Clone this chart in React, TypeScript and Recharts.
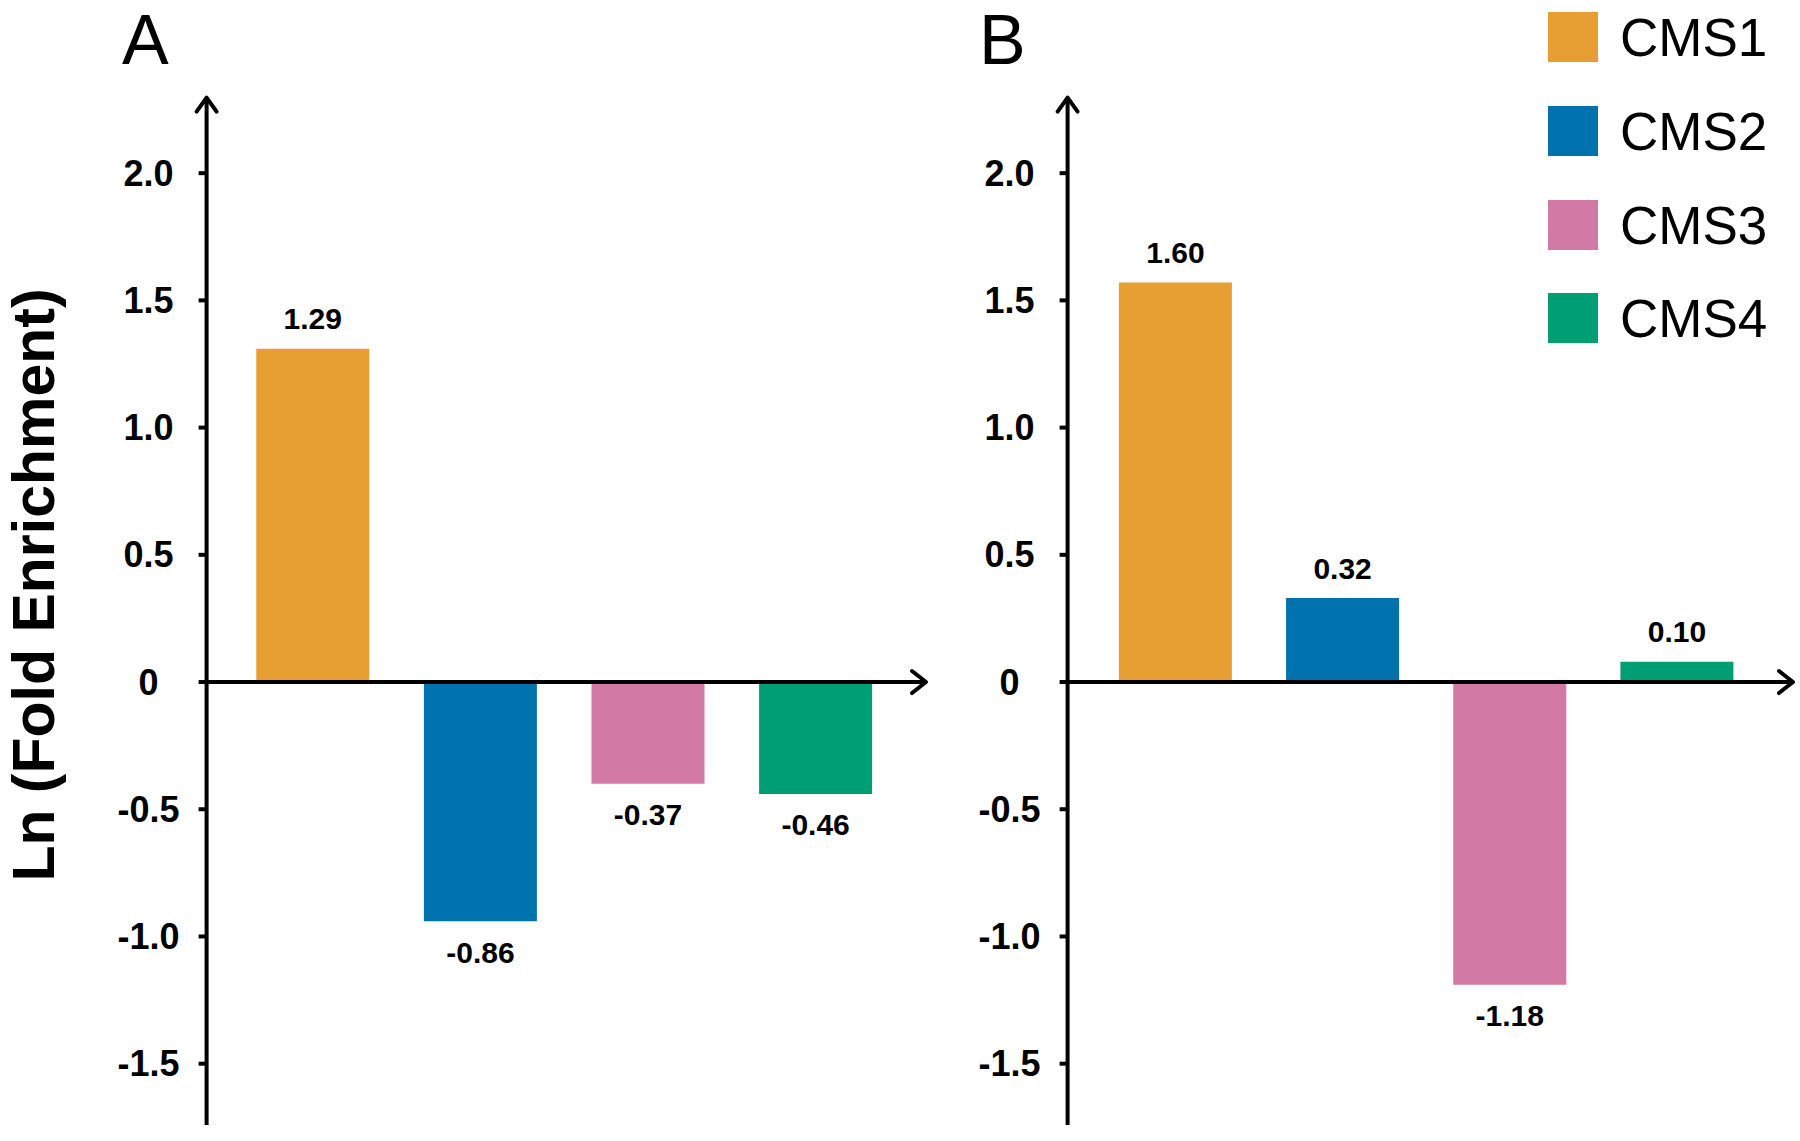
import React from "react";
import { BarChart, Bar, XAxis, YAxis, Cell, LabelList, ReferenceLine } from "recharts";

// ---- data ----
const categories = ["CMS1", "CMS2", "CMS3", "CMS4"];
const seriesColors = ["#E79E33", "#0072AD", "#D279A5", "#009E74"];
// drawn bar lengths and printed value labels
const panelAValues = [1.31, -0.94, -0.4, -0.44];
const panelALabels = ["1.29", "-0.86", "-0.37", "-0.46"];
const panelBValues = [1.57, 0.33, -1.19, 0.08];
const panelBLabels = ["1.60", "0.32", "-1.18", "0.10"];
const yTicks = [-1.5, -1.0, -0.5, 0, 0.5, 1.0, 1.5, 2.0];
const yTickLabels = ["-1.5", "-1.0", "-0.5", "0", "0.5", "1.0", "1.5", "2.0"];
const yDomain: [number, number] = [-1.741, 2.297];
const yTitle = "Ln (Fold Enrichment)";
const panelTitles = ["A", "B"];

const FONT = "'Liberation Sans', Arial, Helvetica, sans-serif";

const buildRows = (vals: number[], labels: string[]) =>
  categories.map((c, i) => ({ name: c, value: vals[i], label: labels[i] }));

const YTick = (props: any) => {
  const { x, y, payload } = props;
  const idx = yTicks.indexOf(payload.value);
  const txt = idx >= 0 ? yTickLabels[idx] : String(payload.value);
  return (
    <text
      x={x + 14 - 62}
      y={y}
      textAnchor="middle"
      dominantBaseline="central"
      fontFamily={FONT}
      fontWeight="bold"
      fontSize={36}
      fill="#000"
    >
      {txt}
    </text>
  );
};

const XArrow = (props: any) => {
  const { x1, x2, y1 } = props;
  const l = Math.min(x1, x2);
  const r = Math.max(x1, x2);
  return (
    <g>
      <line x1={l} y1={y1} x2={r - 2} y2={y1} stroke="#000" strokeWidth={4} />
      <polyline
        points={`${r - 14},${y1 - 11} ${r},${y1} ${r - 14},${y1 + 11}`}
        fill="none"
        stroke="#000"
        strokeWidth={4}
        strokeLinecap="round"
        strokeLinejoin="round"
      />
    </g>
  );
};

const YArrow = (props: any) => {
  const { x1, x2, y1 } = props;
  const l = Math.min(x1, x2);
  return (
    <polyline
      points={`${l - 10},${y1 + 14} ${l},${y1} ${l + 10},${y1 + 14}`}
      fill="none"
      stroke="#000"
      strokeWidth={4}
      strokeLinecap="round"
      strokeLinejoin="round"
    />
  );
};

const makeValueLabel = (labels: string[], vals: number[]) => (props: any) => {
  const { x, y, width, height, index } = props;
  const top = Math.min(y, y + height);
  const bottom = Math.max(y, y + height);
  const cx = x + width / 2;
  const neg = vals[index] < 0;
  return (
    <text
      x={cx}
      y={neg ? bottom + 31 : top - 30}
      textAnchor="middle"
      dominantBaseline="central"
      fontFamily={FONT}
      fontWeight="bold"
      fontSize={30}
      fill="#000"
    >
      {labels[index]}
    </text>
  );
};

type PanelProps = {
  vals: number[];
  labels: string[];
  width: number;
  marginLeft: number;
  marginRight: number;
  padLeft: number;
  padRight: number;
};

const Panel = ({ vals, labels, width, marginLeft, marginRight, padLeft, padRight }: PanelProps) => {
  const rows = buildRows(vals, labels);
  return (
    <BarChart
      width={width}
      height={1141}
      data={rows}
      margin={{ top: 97.6, right: marginRight, bottom: 16, left: marginLeft }}
      barSize={113}
    >
      <XAxis
        dataKey="name"
        hide
        padding={{ left: padLeft, right: padRight }}
      />
      <YAxis
        width={150}
        domain={yDomain}
        ticks={yTicks}
        type="number"
        allowDataOverflow
        interval={0}
        axisLine={{ stroke: "#000", strokeWidth: 4 }}
        tickLine={{ stroke: "#000", strokeWidth: 4 }}
        tickSize={8}
        tick={<YTick />}
      />
      <Bar dataKey="value" isAnimationActive={false}>
        {rows.map((r, i) => (
          <Cell key={r.name} fill={seriesColors[i]} />
        ))}
        <LabelList dataKey="label" content={makeValueLabel(labels, vals)} />
      </Bar>
      <ReferenceLine y={0} shape={<XArrow />} ifOverflow="visible" />
      <ReferenceLine y={yDomain[1]} shape={<YArrow />} ifOverflow="visible" />
    </BarChart>
  );
};

const legendRowsY = [12, 106, 200, 293];

export default function App() {
  return (
    <div
      style={{
        position: "absolute",
        left: 0,
        top: 0,
        width: 1800,
        height: 1141,
        background: "#fff",
        overflow: "hidden",
      }}
    >
      <div style={{ position: "absolute", left: 0, top: 0 }}>
        <Panel
          vals={panelAValues}
          labels={panelALabels}
          width={960}
          marginLeft={56.6}
          marginRight={34}
          padLeft={22.7}
          padRight={26.3}
        />
      </div>
      <div style={{ position: "absolute", left: 860, top: 0 }}>
        <Panel
          vals={panelBValues}
          labels={panelBLabels}
          width={940}
          marginLeft={57.6}
          marginRight={7}
          padLeft={24.3}
          padRight={32.4}
        />
      </div>
      <svg
        width={1800}
        height={1141}
        style={{ position: "absolute", left: 0, top: 0, pointerEvents: "none" }}
      >
        <text x={122} y={64} fontFamily={FONT} fontSize={70} fill="#000">
          {panelTitles[0]}
        </text>
        <text x={979} y={64} fontFamily={FONT} fontSize={70} fill="#000">
          {panelTitles[1]}
        </text>
        <text
          x={54}
          y={585}
          transform="rotate(-90, 54, 585)"
          textAnchor="middle"
          fontFamily={FONT}
          fontWeight="bold"
          fontSize={59}
          fill="#000"
        >
          {yTitle}
        </text>
        {categories.map((c, i) => (
          <g key={c}>
            <rect x={1548} y={legendRowsY[i]} width={50} height={50} fill={seriesColors[i]} />
            <text
              x={1620}
              y={legendRowsY[i] + 44}
              fontFamily={FONT}
              fontSize={53}
              fill="#000"
            >
              {c}
            </text>
          </g>
        ))}
      </svg>
    </div>
  );
}
